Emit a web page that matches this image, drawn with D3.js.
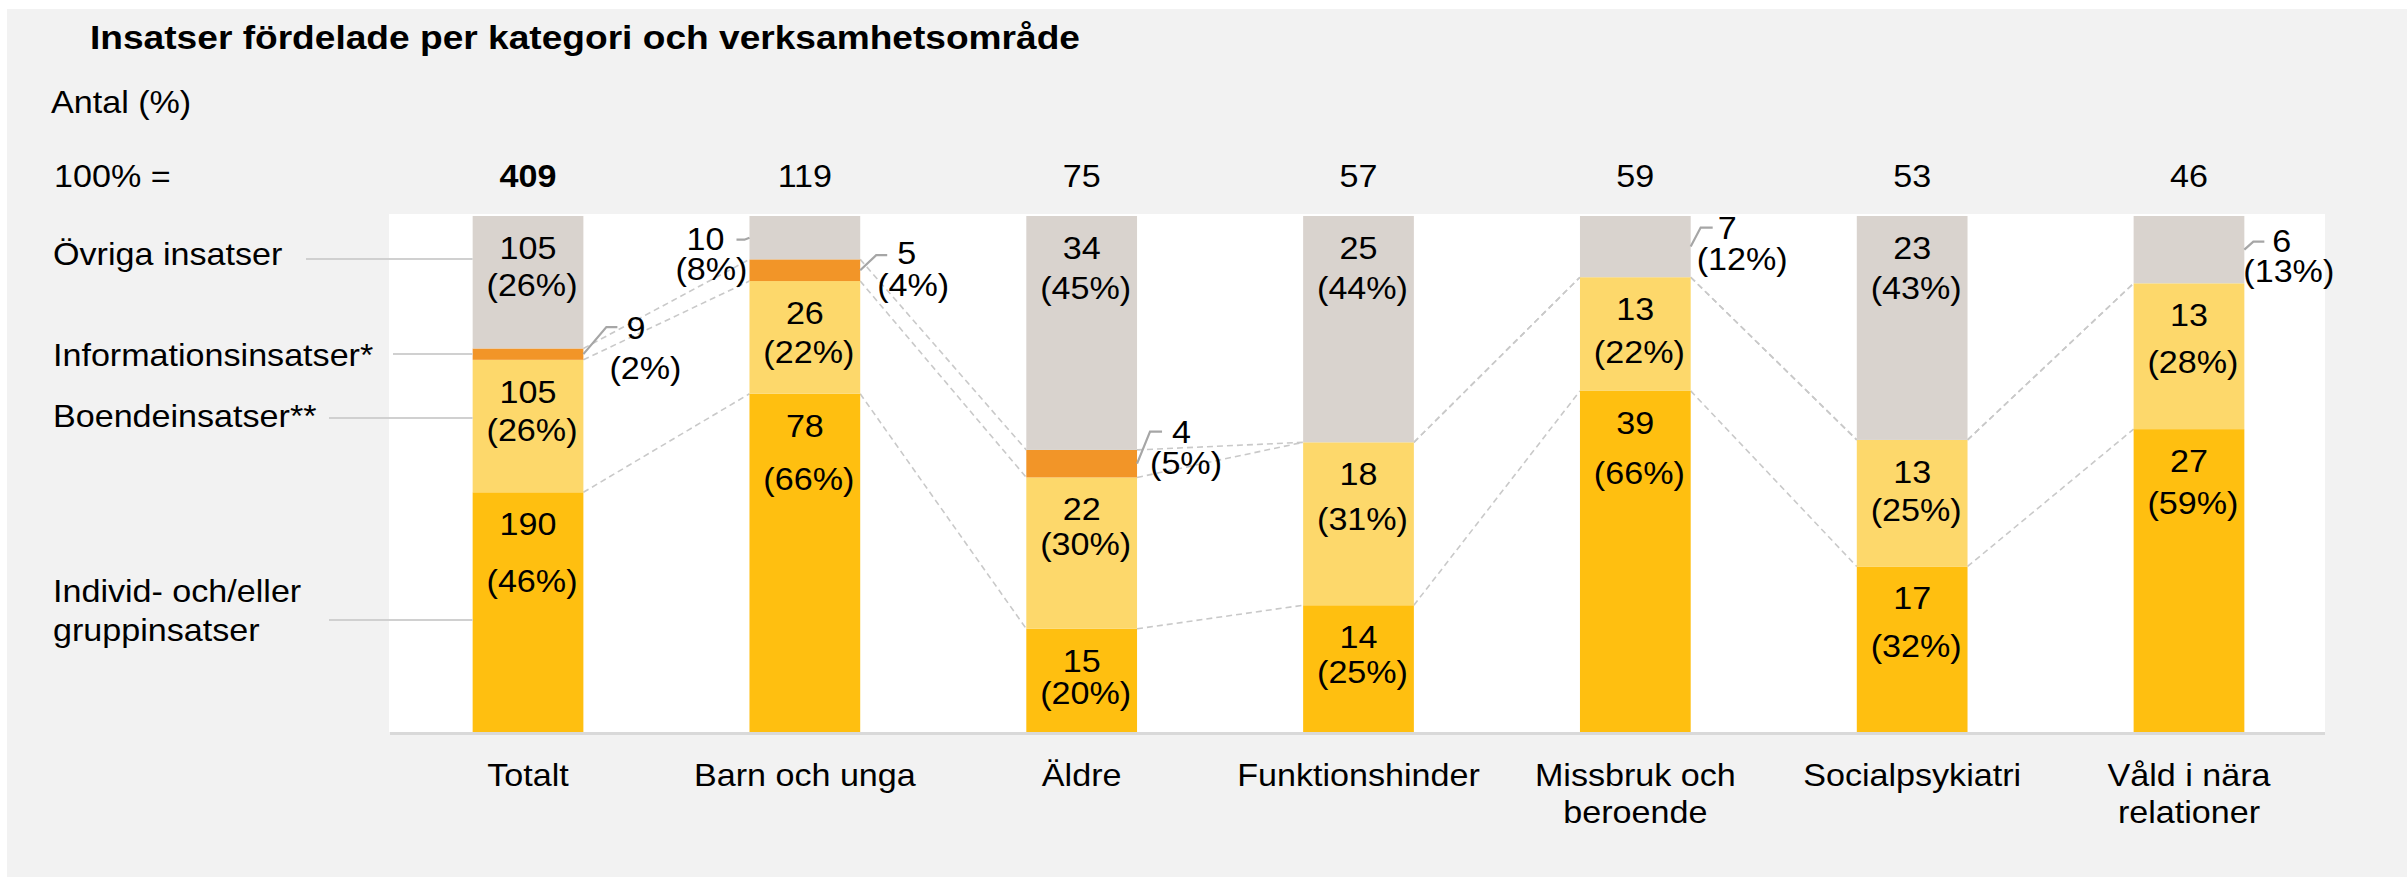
<!DOCTYPE html>
<html>
<head>
<meta charset="utf-8">
<script src="https://cdn.jsdelivr.net/npm/d3@7"></script>
<style>
  html, body { margin: 0; padding: 0; background: #ffffff; }
  svg { display: block; }
  text { font-family: "Liberation Sans", Arial, Helvetica, sans-serif; fill: #000; }
</style>
</head>
<body>
<svg id="chart" width="2407" height="877"></svg>
<script>
// ---------------- DATA ----------------
const categories = ["Totalt", "Barn och unga", "Äldre", "Funktionshinder", "Missbruk och beroende", "Socialpsykiatri", "Våld i nära relationer"];
const categoryLines = [["Totalt"], ["Barn och unga"], ["Äldre"], ["Funktionshinder"], ["Missbruk och", "beroende"], ["Socialpsykiatri"], ["Våld i nära", "relationer"]];
const totals = [409, 119, 75, 57, 59, 53, 46];
const seriesNames = ["Individ- och/eller gruppinsatser", "Boendeinsatser**", "Informationsinsatser*", "Övriga insatser"];
const individ = [190, 78, 15, 14, 39, 17, 27];
const individPct = [46, 66, 20, 25, 66, 32, 59];
const boende = [105, 26, 22, 18, 13, 13, 13];
const boendePct = [26, 22, 30, 31, 22, 25, 28];
const information = [9, 5, 4, 0, 0, 0, 0];
const informationPct = [2, 4, 5, 0, 0, 0, 0];
const ovriga = [105, 10, 34, 25, 7, 23, 6];
const ovrigaPct = [26, 8, 45, 44, 12, 43, 13];

const titleText = "Insatser fördelade per kategori och verksamhetsområde";
const unitText = "Antal (%)";
const totalRowLabel = "100% =";

// ---------------- LAYOUT / STYLE ----------------
const W = 2407, H = 877;
const SX = 1.1;              // horizontal glyph stretch seen in the reference
const FS = 31;               // base font size
const colors = ["#FFBF10", "#FDD86B", "#F29528", "#D9D3CE"];
const series = [individ, boende, information, ovriga];
const seriesPct = [individPct, boendePct, informationPct, ovrigaPct];

const plot = { left: 389, right: 2325, top: 214, bottom: 732 };
const barTop = 216;

// gap between count line and percent line for in-bar labels
const pctGap = [
  [57, 53, 32, 35, 50, 48, 42],
  [38, 39, 35, 45, 43, 38, 47],
  [0, 0, 0, 0, 0, 0, 0],
  [37, 0, 40, 40, 0, 40, 0]
];
// callouts for thin segments (series index s, category index c)
const callouts = [
  { s: 2, c: 0, side: 1, dx: 23, dy: -27, len: 11, numGap: 9, numDy: 12, pctDx: 3, pctDy: 40 },
  { s: 3, c: 1, side: -1, dx: -5, dy: 2, len: 8, numGap: 12, numDy: 10, pctDx: 3, pctDy: 30 },
  { s: 2, c: 1, side: 1, dx: 16, dy: -15, len: 11, numGap: 10, numDy: 9, pctDx: 1, pctDy: 32 },
  { s: 2, c: 2, side: 1, dx: 13, dy: -32, len: 12, numGap: 10, numDy: 11, pctDx: 0, pctDy: 31 },
  { s: 3, c: 4, side: 1, dx: 10, dy: -19, len: 12, numGap: 5, numDy: 11, pctDx: -4, pctDy: 31 },
  { s: 3, c: 6, side: 1, dx: 9, dy: -8, len: 11, numGap: 8, numDy: 10, pctDx: -10, pctDy: 30 }
];
// left legend labels
const legendLayout = [
  { s: 3, lines: ["Övriga insatser"], y: [265], lineY: 259, lineX: 306 },
  { s: 2, lines: ["Informationsinsatser*"], y: [366], lineY: 354, lineX: 393 },
  { s: 1, lines: ["Boendeinsatser**"], y: [427], lineY: 418, lineX: 329 },
  { s: 0, lines: ["Individ- och/eller", "gruppinsatser"], y: [602, 641], lineY: 620, lineX: 329 }
];

// ---------------- DRAW ----------------
const svg = d3.select("#chart");

function txt(g, x, y, str, opts = {}) {
  return g.append("text")
    .attr("transform", `translate(${x},${y}) scale(${opts.sx || SX},1)`)
    .attr("text-anchor", opts.anchor || "start")
    .attr("font-size", opts.size || FS)
    .attr("font-weight", opts.weight || "normal")
    .text(str);
}

// panel background
svg.append("rect").attr("x", 7).attr("y", 9).attr("width", W - 7).attr("height", H - 9).attr("fill", "#F2F2F2");
// plot area
svg.append("rect").attr("x", plot.left).attr("y", plot.top)
  .attr("width", plot.right - plot.left).attr("height", plot.bottom - plot.top).attr("fill", "#FFFFFF");

const x = d3.scaleBand().domain(categories).range([389.6, 2327.4]).paddingInner(0.6).paddingOuter(0.3);
const y = d3.scaleLinear().domain([0, 1]).range([plot.bottom, barTop]);
const bw = x.bandwidth();

// stacked shares
const stackData = categories.map((c, i) => {
  const o = { cat: c };
  seriesNames.forEach((s, k) => { o[s] = series[k][i] / totals[i]; });
  return o;
});
const stacked = d3.stack().keys(seriesNames)(stackData);

// dashed connectors between adjacent bars at each boundary
const gConn = svg.append("g");
for (let k = 0; k < 3; k++) {
  for (let i = 0; i < categories.length - 1; i++) {
    const a = stacked[k][i][1], b = stacked[k][i + 1][1];
    gConn.append("line")
      .attr("x1", x(categories[i]) + bw).attr("y1", y(a))
      .attr("x2", x(categories[i + 1])).attr("y2", y(b))
      .attr("stroke", "#C9C9C9").attr("stroke-width", 1.6).attr("stroke-dasharray", "6,4");
  }
}

// bars
const gBars = svg.append("g");
stacked.forEach((layer, k) => {
  gBars.selectAll(null).data(layer).enter().append("rect")
    .attr("x", d => x(d.data.cat))
    .attr("y", d => y(d[1]))
    .attr("width", bw)
    .attr("height", d => Math.max(0, y(d[0]) - y(d[1])))
    .attr("fill", colors[k]);
});

// axis baseline
svg.append("line").attr("x1", 390).attr("x2", plot.right).attr("y1", 733.5).attr("y2", 733.5)
  .attr("stroke", "#D9D9D9").attr("stroke-width", 3);

// category labels (axis)
const xAxis = d3.axisBottom(x).tickSize(0).tickFormat("");
const gAxis = svg.append("g").attr("transform", `translate(0,${plot.bottom})`).call(xAxis);
gAxis.select(".domain").remove();
categories.forEach((c, i) => {
  categoryLines[i].forEach((ln, j) => {
    txt(svg, x(c) + bw / 2, 786 + j * 37, ln, { anchor: "middle" });
  });
});

// in-bar labels
const calloutKey = new Set(callouts.map(d => d.s + "_" + d.c));
stacked.forEach((layer, k) => {
  layer.forEach((d, i) => {
    if (series[k][i] === 0 || calloutKey.has(k + "_" + i)) return;
    const cx = x(categories[i]) + bw / 2;
    const b1 = y(d[1]) + 43;
    txt(svg, cx, b1, String(series[k][i]), { anchor: "middle" });
    txt(svg, cx + 4, b1 + pctGap[k][i], "(" + seriesPct[k][i] + "%)", { anchor: "middle" });
  });
});

// callouts
callouts.forEach(co => {
  const seg = stacked[co.s][co.c];
  const mid = (y(seg[0]) + y(seg[1])) / 2;
  const x0 = co.side > 0 ? x(categories[co.c]) + bw : x(categories[co.c]);
  const ex = x0 + co.dx, ey = mid + co.dy;
  const endX = ex + co.side * co.len;
  svg.append("path")
    .attr("d", `M${x0},${mid}L${ex},${ey}L${endX},${ey}`)
    .attr("fill", "none").attr("stroke", "#A6A6A6").attr("stroke-width", 2.2);
  const anchor = co.side > 0 ? "start" : "end";
  const numY = ey + co.numDy;
  txt(svg, endX + co.side * co.numGap, numY, String(series[co.s][co.c]), { anchor });
  txt(svg, ex + co.pctDx, numY + co.pctDy, "(" + seriesPct[co.s][co.c] + "%)", { anchor });
});

// legend labels on the left with leader lines
legendLayout.forEach(l => {
  svg.append("line").attr("x1", l.lineX).attr("x2", x(categories[0])).attr("y1", l.lineY).attr("y2", l.lineY)
    .attr("stroke", "#D0D0D0").attr("stroke-width", 2);
  l.lines.forEach((ln, j) => txt(svg, 53, l.y[j], ln));
});

// title, unit, totals row
txt(svg, 90, 49, titleText, { weight: "bold", size: 33, sx: 1.125 });
txt(svg, 51, 113, unitText);
txt(svg, 54, 187, totalRowLabel);
categories.forEach((c, i) => {
  txt(svg, x(c) + bw / 2, 187, String(totals[i]), { anchor: "middle", weight: i === 0 ? "bold" : "normal" });
});
</script>
</body>
</html>
